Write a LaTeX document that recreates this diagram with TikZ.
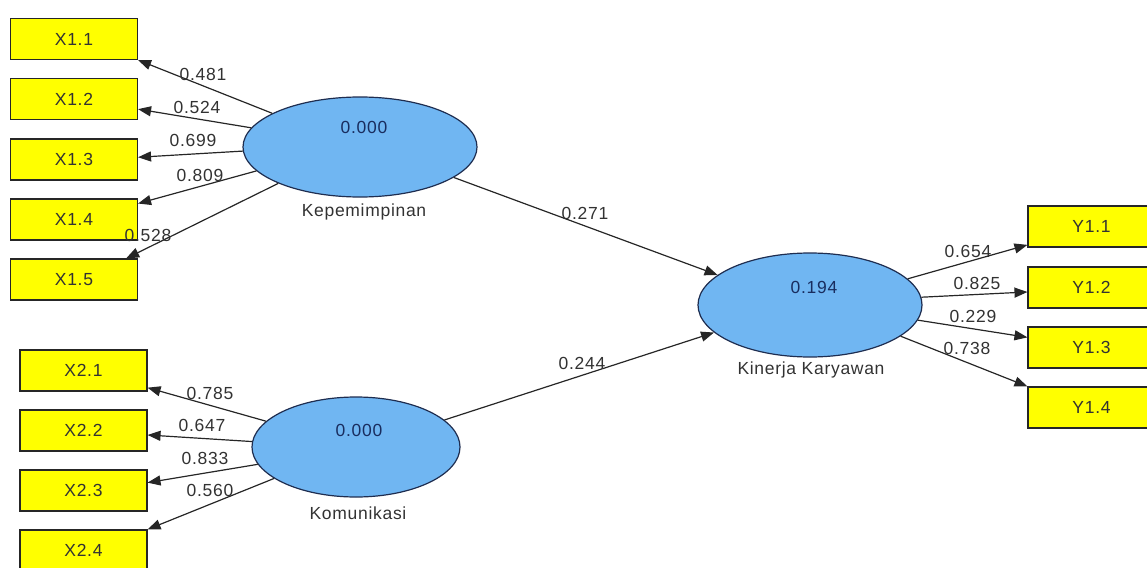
\documentclass[tikz,border=0pt]{standalone}
\usepackage{fontspec}
\setmainfont{Liberation Sans}[LetterSpace=4]
\usetikzlibrary{arrows.meta,shapes.geometric,calc}

\definecolor{lvfill}{RGB}{112,182,242}
\definecolor{lvdraw}{RGB}{30,45,80}
\definecolor{mvfill}{RGB}{255,255,0}
\definecolor{inktext}{RGB}{50,50,50}
\definecolor{valtext}{RGB}{25,45,95}

\begin{document}
\begin{tikzpicture}[x=1pt,y=-1pt,
  every node/.style={font=\fontsize{17.5}{20}\selectfont, text=inktext},
  indicator/.style={draw=black!85, fill=mvfill, line width=1.1pt,
    minimum width=127pt, minimum height=41pt, inner sep=0pt},
  latent/.style={ellipse, draw=lvdraw, fill=lvfill, line width=1.2pt, inner sep=0pt},
  value/.style={text=valtext},
  weight/.style={inner sep=0pt},
  link/.style={draw=black!85, line width=1.2pt, -{Triangle[length=13pt,width=10pt]}}
]
\useasboundingbox (0,0) rectangle (1147,567);

% latent variables
\node[latent, minimum width=234pt, minimum height=100pt] (kep) at (360,147) {};
\node[latent, minimum width=208pt, minimum height=100pt] (kom) at (356,447) {};
\node[latent, minimum width=224pt, minimum height=104pt] (kin) at (810,305) {};

\node[value] (kepv) at (364,127) {0.000};
\node[value] (komv) at (359,430) {0.000};
\node[value] (kinv) at (814,287) {0.194};

\node (kepl) at (364,212) {Kepemimpinan};
\node (koml) at (358,513) {Komunikasi};
\node (kinl) at (811,370) {Kinerja Karyawan};

% indicators
\node[indicator] (x11) at (74,39)    {X1.1};
\node[indicator] (x12) at (74,99)    {X1.2};
\node[indicator] (x13) at (74,159.5) {X1.3};
\node[indicator] (x14) at (74,219.5) {X1.4};
\node[indicator] (x15) at (74,279.5) {X1.5};

\node[indicator] (x21) at (83.5,370.5) {X2.1};
\node[indicator] (x22) at (83.5,430.5) {X2.2};
\node[indicator] (x23) at (83.5,490.5) {X2.3};
\node[indicator] (x24) at (83.5,550.5) {X2.4};

\node[indicator] (y11) at (1091.5,226.5) {Y1.1};
\node[indicator] (y12) at (1091.5,287.5) {Y1.2};
\node[indicator] (y13) at (1091.5,347.5) {Y1.3};
\node[indicator] (y14) at (1091.5,407.5) {Y1.4};

% outer loadings
\draw[link] (kep.159.7) -- (x11.south east);
\draw[link] (kep.170.2) -- (x12.-9.75);
\draw[link] (kep.182)   -- (x13.2);
\draw[link] (kep.193.9) -- (x14.14.5);
\draw[link] (kep.204.3) -- (x15.22.1);

\draw[link] (kom.164.6) -- (x21.-15.4);
\draw[link] (kom.177)   -- (x22.-4);
\draw[link] (kom.190.1) -- (x23.7.6);
\draw[link] (kom.201)   -- (x24.north east);

\draw[link] (kin.15.6)  -- (y11.196);
\draw[link] (kin.4)     -- (y12.184);
\draw[link] (kin.-8)    -- (y13.171.5);
\draw[link] (kin.-19.7) -- (y14.north west);

% structural paths
\draw[link] (kep.-18.6) -- (kin.162);
\draw[link] (kom.17.2)  -- (kin.196.4);

% coefficients
\node[weight] (w11) at (203,74)  {0.481};
\node[weight] (w12) at (197,107) {0.524};
\node[weight] (w13) at (193,140) {0.699};
\node[weight] (w14) at (200,175) {0.809};
\node[weight] (w15) at (148,235) {0.528};

\node[weight] (w21) at (210,393) {0.785};
\node[weight] (w22) at (202,425) {0.647};
\node[weight] (w23) at (205,458) {0.833};
\node[weight] (w24) at (210,490) {0.560};

\node[weight] (wy1) at (968,251) {0.654};
\node[weight] (wy2) at (977,283) {0.825};
\node[weight] (wy3) at (973,316) {0.229};
\node[weight] (wy4) at (967,348) {0.738};

\node[weight] (b1) at (585,213) {0.271};
\node[weight] (b2) at (582,363) {0.244};
\end{tikzpicture}
\end{document}
